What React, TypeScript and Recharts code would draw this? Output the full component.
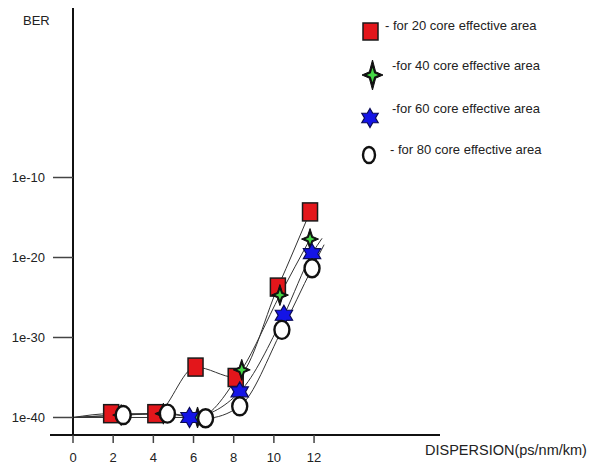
import { ComposedChart, Line, Scatter, XAxis, YAxis, ReferenceLine } from "recharts";

const FONT = "'Liberation Sans', Arial, sans-serif";
const INK = "#222";

const xTicks = [0, 2, 4, 6, 8, 10, 12];
const berTicks = [1e-40, 1e-30, 1e-20, 1e-10];

// marker positions: x = dispersion (ps/nm/km), ber = bit error rate
const origin = [{ x: 0, ber: 1e-40 }];

const area20 = [
  { x: 1.9, ber: 3e-40 },
  { x: 4.1, ber: 3e-40 },
  { x: 6.1, ber: 2e-34 },
  { x: 8.1, ber: 1e-35 },
  { x: 10.2, ber: 2e-24 },
  { x: 11.8, ber: 5e-15 },
];

const area40 = [
  { x: 2.4, ber: 2e-40 },
  { x: 4.5, ber: 3e-40 },
  { x: 6.2, ber: 1e-40 },
  { x: 8.4, ber: 9e-35 },
  { x: 10.3, ber: 2e-25 },
  { x: 11.8, ber: 2e-18 },
];

const area60 = [
  { x: 5.8, ber: 1e-40 },
  { x: 8.3, ber: 1.6e-37 },
  { x: 10.5, ber: 6e-28 },
  { x: 11.9, ber: 3e-20 },
];
const tail60 = [{ x: 12.4, ber: 2.5e-18 }];

const area80 = [
  { x: 2.5, ber: 2e-40 },
  { x: 4.7, ber: 3e-40 },
  { x: 6.6, ber: 8e-41 },
  { x: 8.3, ber: 2.5e-39 },
  { x: 10.4, ber: 9e-30 },
  { x: 11.9, ber: 4.5e-22 },
];
const tail80 = [{ x: 12.5, ber: 4e-19 }];

const legendNames = [
  "- for 20 core effective area",
  "-for 40 core effective area",
  "-for 60 core effective area",
  "- for 80 core effective area",
];

const Square = ({ cx, cy, w = 15, h = 18 }: any) => (
  <rect x={cx - w / 2} y={cy - h / 2} width={w} height={h} fill="#e3161b" stroke="#1a1a1a" strokeWidth={1.5} />
);

const starPath = (cx: number, cy: number, a: number, b: number) => {
  const k = Math.min(a, b) * 0.3;
  return `M${cx},${cy - b} L${cx + k},${cy - k} L${cx + a},${cy} L${cx + k},${cy + k} L${cx},${cy + b} L${cx - k},${cy + k} L${cx - a},${cy} L${cx - k},${cy - k} Z`;
};

const Sparkle = ({ cx, cy, w = 17, h = 21 }: any) => (
  <g>
    <path d={starPath(cx, cy, w / 2, h / 2)} fill="#111" stroke="#111" strokeWidth={1} />
    <path d={starPath(cx, cy, w * 0.27, h * 0.24)} fill="#45d845" />
  </g>
);

const Hexagram = ({ cx, cy, r = 10 }: any) => {
  const pts: string[] = [];
  for (let i = 0; i < 12; i++) {
    const rad = i % 2 === 0 ? r : r * 0.58;
    const ang = (Math.PI / 6) * i - Math.PI / 2;
    pts.push(`${cx + rad * Math.cos(ang)},${cy + rad * Math.sin(ang)}`);
  }
  return <polygon points={pts.join(" ")} fill="#1414e6" stroke="#0b0b55" strokeWidth={1.2} />;
};

const Ring = ({ cx, cy, rx = 7.5, ry = 9 }: any) => (
  <ellipse cx={cx} cy={cy} rx={rx} ry={ry} fill="#fff" stroke="#111" strokeWidth={2.4} />
);

// legend drawn as an overlay so it doesn't eat into the plot area
const LegendBox = () => (
  <svg width={235} height={170} style={{ position: "absolute", left: 355, top: 10 }}>
    <Square cx={15.5} cy={21.5} w={15} h={17} />
    <Sparkle cx={17.5} cy={65} w={21} h={30} />
    <Hexagram cx={15} cy={108} r={9.5} />
    <Ring cx={14} cy={145} rx={6} ry={8} />
    {legendNames.map((name, i) => (
      <text
        key={name}
        x={[30, 37, 37, 35][i]}
        y={[20, 60, 103, 144][i]}
        fontSize={13}
        fontFamily={FONT}
        fill={INK}
      >
        {name}
      </text>
    ))}
  </svg>
);

const xMin = -1.145;
const xMax = 18.27;
const yMin = Math.pow(10, -42.19);
const yMax = Math.pow(10, 11.19);

export default function App() {
  return (
    <div style={{ position: "absolute", left: 0, top: 0, width: 590, height: 465, background: "#fff" }}>
      <ComposedChart width={590} height={465} margin={{ top: 8, right: 150, left: 0, bottom: 0 }}>
        <XAxis
          type="number"
          dataKey="x"
          domain={[0, xMax]}
          allowDataOverflow
          ticks={xTicks}
          height={30}
          tickSize={8}
          tickMargin={10}
          axisLine={{ stroke: "#111", strokeWidth: 2 }}
          tickLine={{ stroke: "#444", strokeWidth: 1.5 }}
          tick={{ fill: INK, fontSize: 13, fontFamily: FONT }}
          label={() => (
            <text x={425} y={455} fontSize={14.5} fontFamily={FONT} fill={INK}>
              DISPERSION(ps/nm/km)
            </text>
          )}
        />
        <YAxis
          type="number"
          dataKey="ber"
          scale="log"
          domain={[yMin, yMax]}
          allowDataOverflow
          ticks={berTicks}
          width={73}
          tickSize={20}
          tickMargin={8}
          tickFormatter={(v: number) => `1e${Math.round(Math.log10(v))}`}
          axisLine={{ stroke: "#111", strokeWidth: 2 }}
          tickLine={{ stroke: "#444", strokeWidth: 1.5 }}
          tick={{ fill: INK, fontSize: 13, fontFamily: FONT }}
          label={() => (
            <text x={23} y={25} fontSize={13} fontFamily={FONT} fill={INK}>
              BER
            </text>
          )}
        />
        <ReferenceLine
          segment={[
            { x: xMin, y: yMin },
            { x: 0, y: yMin },
          ]}
          ifOverflow="visible"
          stroke="#111"
          strokeWidth={2}
        />

        <Line data={[...origin, ...area20]} dataKey="ber" type="monotone" stroke="#333" strokeWidth={1} dot={false} isAnimationActive={false} />
        <Line data={[...origin, ...area40]} dataKey="ber" type="monotone" stroke="#333" strokeWidth={1} dot={false} isAnimationActive={false} />
        <Line data={[...origin, ...area60, ...tail60]} dataKey="ber" type="monotone" stroke="#333" strokeWidth={1} dot={false} isAnimationActive={false} />
        <Line data={[...origin, ...area80, ...tail80]} dataKey="ber" type="monotone" stroke="#333" strokeWidth={1} dot={false} isAnimationActive={false} />

        <Scatter data={area20} dataKey="ber" isAnimationActive={false} shape={(p: any) => <Square cx={p.cx} cy={p.cy} />} />
        <Scatter data={area40} dataKey="ber" isAnimationActive={false} shape={(p: any) => <Sparkle cx={p.cx} cy={p.cy} />} />
        <Scatter data={area60} dataKey="ber" isAnimationActive={false} shape={(p: any) => <Hexagram cx={p.cx} cy={p.cy} />} />
        <Scatter data={area80} dataKey="ber" isAnimationActive={false} shape={(p: any) => <Ring cx={p.cx} cy={p.cy} />} />
      </ComposedChart>
      <LegendBox />
    </div>
  );
}
